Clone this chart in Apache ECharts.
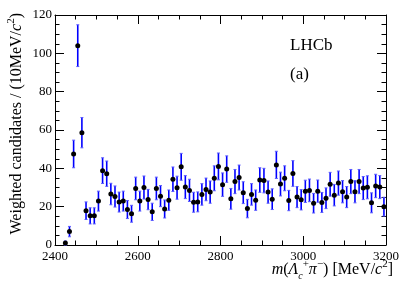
<!DOCTYPE html>
<html><head><meta charset="utf-8">
<script src="https://cdn.jsdelivr.net/npm/echarts@6/dist/echarts.min.js"></script>
<style>html,body{margin:0;padding:0;background:#fff}#c{width:407px;height:292px}</style>
</head><body><div id="c"></div>
<script>
// Bin centres [MeV/c^2]
const binCenters = [2425,2435,2445,2455,2465,2475,2485,2495,2505,2515,2525,2535,2545,2555,2565,2575,2585,2595,2605,2615,2625,2635,2645,2655,2665,2675,2685,2695,2705,2715,2725,2735,2745,2755,2765,2775,2785,2795,2805,2815,2825,2835,2845,2855,2865,2875,2885,2895,2905,2915,2925,2935,2945,2955,2965,2975,2985,2995,3005,3015,3025,3035,3045,3055,3065,3075,3085,3095,3105,3115,3125,3135,3145,3155,3165,3175,3185,3195];
// Weighted candidates per bin
const counts = [1,7,47.5,104,58.6,17.9,15.2,15.2,22.9,38.8,37.2,26.6,25.3,22.4,22.9,18.5,16.3,29.5,22.9,30,23.7,17.3,29.5,25.5,18.8,23.4,34.3,29.9,40.8,30.2,28.5,22.3,22.5,26.4,29,27.6,34.8,41,31.5,39.6,24.1,33.1,35.2,27.3,19,26.4,23.4,33.9,33.6,27.6,23.9,41.8,31.8,34.8,23.2,37.3,25,23.6,28,28.5,21.8,28.1,22.2,24.4,31.7,26,32.3,27.8,25,33.1,27.8,33.1,29.7,30.1,22,30.8,30.2,20];
// Symmetric errors
const errors = [1.1,2.7,7.2,10.9,7.9,4.6,4.2,4.2,5.2,6.7,6.6,5.6,5.5,5.2,5.2,4.7,4.4,5.9,5.2,6,5.3,4.5,5.9,5.5,4.7,5.3,6.4,6,7,6,5.8,5.2,5.2,5.6,5.9,5.8,6.5,7,6.1,6.9,5.4,6.3,6.5,5.7,4.8,5.6,5.3,6.4,6.4,5.8,5.4,7.1,6.2,6.5,5.3,6.7,5.5,5.3,5.8,5.9,5.1,5.8,5.2,5.4,6.2,5.6,6.3,5.8,5.5,6.3,5.8,6.3,6,6,5.2,6.1,6,4.9];
const xTicks = [2400,2600,2800,3000,3200];
const yTicks = [0,20,40,60,80,100,120];

const FONT = 'Liberation Serif';
const pts = binCenters.map((x,i)=>[x,counts[i]]);
const errData = binCenters.map((x,i)=>[x,counts[i]-errors[i],counts[i]+errors[i]]);

const lineStyle = {color:'#000', width:1};
function xAx(pos, labels){
  return {type:'value', position:pos, min:xTicks[0], max:xTicks[xTicks.length-1], interval:xTicks[1]-xTicks[0],
    axisLine:{show:true,onZero:false,lineStyle},
    axisTick:{show:true,inside:true,length:9,lineStyle},
    minorTick:{show:true,splitNumber:4,length:4.5,lineStyle},
    splitLine:{show:false},
    axisLabel:{show:labels,color:'#000',fontFamily:FONT,fontSize:13,margin:5,formatter:v=>String(v)}};
}
function yAx(pos, labels){
  return {type:'value', position:pos, min:yTicks[0], max:yTicks[yTicks.length-1], interval:yTicks[1]-yTicks[0],
    axisLine:{show:true,onZero:false,lineStyle},
    axisTick:{show:true,inside:true,length:9,lineStyle},
    minorTick:{show:true,splitNumber:4,length:4.5,lineStyle},
    splitLine:{show:false},
    axisLabel:{show:labels,color:'#000',fontFamily:FONT,fontSize:13,margin:3,formatter:v=>String(v)}};
}

const chart = echarts.init(document.getElementById('c'), null, {renderer:'canvas'});
const sup = {fontFamily:FONT,fontSize:11,lineHeight:11,verticalAlign:'top',fill:'#000'};
const nrm = {fontFamily:FONT,fontSize:16,lineHeight:22,verticalAlign:'middle',fill:'#000'};
const itl = {fontFamily:FONT,fontSize:16,fontStyle:'italic',lineHeight:22,verticalAlign:'middle',fill:'#000'};
chart.setOption({
  animation:false,
  grid:{left:55, right:21, top:15, bottom:47},
  xAxis:[xAx('bottom',true), xAx('top',false)],
  yAxis:[yAx('left',true), yAx('right',false)],
  series:[
    {type:'custom', xAxisIndex:0, yAxisIndex:0, data:errData, z:2,
      renderItem:function(params, api){
        const x = api.value(0);
        const lo = api.coord([x, api.value(1)]);
        const hi = api.coord([x, api.value(2)]);
        const st = {stroke:'#0000ff', lineWidth:1.6};
        const cs = {stroke:'#5a5aff', lineWidth:1};
        return {type:'group', children:[
          {type:'line', shape:{x1:lo[0],y1:lo[1],x2:hi[0],y2:hi[1]}, style:st},
          {type:'line', shape:{x1:lo[0]-1.5,y1:lo[1],x2:lo[0]+1.5,y2:lo[1]}, style:cs},
          {type:'line', shape:{x1:hi[0]-1.5,y1:hi[1],x2:hi[0]+1.5,y2:hi[1]}, style:cs}
        ]};
      }},
    {type:'scatter', xAxisIndex:0, yAxisIndex:0, data:pts, symbol:'circle', symbolSize:5, z:3,
      itemStyle:{color:'#000', opacity:1}}
  ],
  graphic:[
    {type:'text', x:17, y:13, rotation:Math.PI/2,
      style:{text:'{n|Weighted candidates / (10MeV/}{i|c}{s|2}{n|)}', textAlign:'right', textVerticalAlign:'middle',
        rich:{n:nrm, i:itl, s:sup}}},
    {type:'text', x:393, y:270,
      style:{text:'{i|m}{n|(}{i|Λ}{b|c}{s|+}{i|π}{s|−}{n|) [MeV/}{i|c}{s|2}{n|]}', textAlign:'right', textVerticalAlign:'middle',
        rich:{n:nrm, i:itl,
              b:{fontFamily:FONT,fontSize:10,fontStyle:'italic',lineHeight:10,verticalAlign:'bottom',fill:'#000'},
              s:sup}}},
    {type:'text', x:290, y:46, style:{text:'LHCb', fontFamily:FONT, fontSize:17, fill:'#000', textVerticalAlign:'middle'}},
    {type:'text', x:290, y:75, style:{text:'(a)', fontFamily:FONT, fontSize:17, fill:'#000', textVerticalAlign:'middle'}}
  ]
});
</script></body></html>
